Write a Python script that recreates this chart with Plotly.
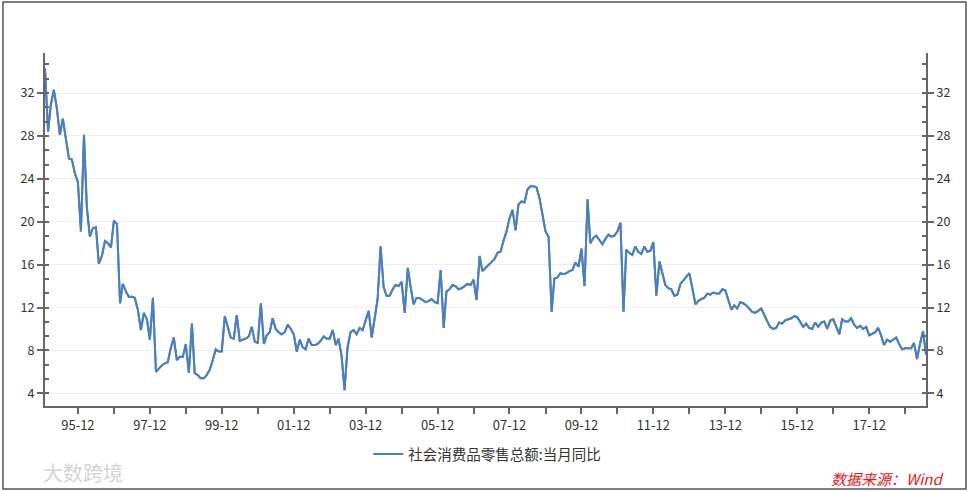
import pandas as pd
import plotly.graph_objects as go

# 社会消费品零售总额:当月同比 (%), monthly from 1995-01; None = no monthly value (Jan, combined with Feb)
start_month = "1995-01-01"
values = [
    34.3, 28.4, 30.9, 32.3, 30.6, 28.1, 29.6, 27.8, 25.9, 25.8, 24.5, 23.7,   # 1995
    19.1, 28.1, 21.3, 18.6, 19.4, 19.5, 16.1, 16.8, 18.2, 18.0, 17.6, 20.1,   # 1996
    19.8, 12.4, 14.2, 13.5, 13.0, 13.0, 12.9, 11.8, 9.9, 11.5, 10.9, 9.0,     # 1997
    12.9, 6.0, 6.3, 6.6, 6.8, 6.9, 8.2, 9.2, 7.1, 7.4, 7.4, 8.6,              # 1998
    5.9, 10.5, 5.9, 5.7, 5.4, 5.4, 5.7, 6.2, 7.1, 8.1, 7.9, 7.9,              # 1999
    11.2, 10.2, 9.2, 9.1, 11.3, 8.9, 9.0, 9.1, 9.3, 10.2, 8.8, 8.7,           # 2000
    12.4, 8.6, 9.4, 9.7, 11.0, 10.0, 9.7, 9.5, 9.7, 10.4, 10.0, 9.5,          # 2001
    7.9, 9.0, 8.3, 8.1, 9.1, 8.5, 8.5, 8.6, 8.9, 9.3, 9.1, 9.1,               # 2002
    9.9, 8.5, 9.1, 7.5, 4.3, 8.3, 9.7, 9.9, 9.5, 10.1, 9.9, 10.8,             # 2003
    11.7, 9.2, 10.8, 12.8, 17.7, 13.9, 13.1, 13.1, 13.7, 14.1, 14.0, 14.4,    # 2004
    11.5, 15.7, 14.0, 12.3, 12.9, 12.9, 12.7, 12.5, 12.6, 12.8, 12.5, 12.4,   # 2005
    15.5, 10.1, 13.5, 13.7, 14.1, 14.0, 13.7, 13.8, 14.0, 14.2, 14.1, 14.6,   # 2006
    12.7, 16.8, 15.4, 15.7, 16.0, 16.2, 16.5, 17.1, 17.2, 18.2, 19.1, 20.3,   # 2007
    21.1, 19.2, 21.6, 21.9, 21.8, 23.0, 23.3, 23.3, 23.2, 22.2, 20.8, 19.1,   # 2008
    18.6, 11.6, 14.7, 14.8, 15.2, 15.1, 15.2, 15.4, 15.5, 16.2, 15.8, 17.5,   # 2009
    14.0, 22.1, 18.0, 18.5, 18.7, 18.3, 17.9, 18.4, 18.8, 18.6, 18.7, 19.1,   # 2010
    19.9, 11.6, 17.4, 17.1, 16.9, 17.7, 17.2, 17.0, 17.7, 17.2, 17.3, 18.1,   # 2011
    13.1, 16.3, 15.2, 14.1, 13.8, 13.7, 13.1, 13.2, 14.2, 14.5, 14.9, 15.2,   # 2012
    None, 12.3, 12.6, 12.8, 12.9, 13.3, 13.2, 13.4, 13.3, 13.3, 13.7, 13.6,   # 2013
    None, 11.8, 12.2, 11.9, 12.5, 12.4, 12.2, 11.9, 11.6, 11.5, 11.7, 11.9,   # 2014
    None, 10.7, 10.2, 10.0, 10.1, 10.6, 10.5, 10.8, 10.9, 11.0, 11.2, 11.1,   # 2015
    None, 10.2, 10.5, 10.1, 10.0, 10.6, 10.2, 10.6, 10.7, 10.0, 10.8, 10.9,   # 2016
    None, 9.5, 10.9, 10.7, 10.7, 11.0, 10.4, 10.1, 10.3, 10.0, 10.2, 9.4,     # 2017
    None, 9.7, 10.1, 9.4, 8.5, 9.0, 8.8, 9.0, 9.2, 8.6, 8.1, 8.2,             # 2018
    None, 8.2, 8.7, 7.2, 8.6, 9.8, 7.6,                                       # 2019
]
series_name = "社会消费品零售总额:当月同比"

tick_dates = [f"{y}-12-01" for y in range(1995, 2019)]
tick_labels = ["95-12", "", "97-12", "", "99-12", "", "01-12", "", "03-12", "", "05-12", "",
               "07-12", "", "09-12", "", "11-12", "", "13-12", "", "15-12", "", "17-12", ""]

dates = pd.date_range(start_month, periods=len(values), freq="MS")

LINE = "#4d7fbc"
AX = "#666666"
TXT = "#333333"
FONT = "Noto Sans CJK SC"

fig = go.Figure()
fig.add_trace(go.Scatter(x=dates, y=values, mode="lines", name=series_name,
                         line=dict(color=LINE, width=2), connectgaps=True))
fig.add_trace(go.Scatter(x=dates, y=values, mode="lines", yaxis="y2", showlegend=False,
                         line=dict(color=LINE, width=2), connectgaps=True, hoverinfo="skip"))

yr = [2.82, 35.73]
ycommon = dict(range=yr, tick0=0, dtick=4, showline=True, linecolor=AX, linewidth=2,
               ticks="outside", ticklen=6, tickwidth=1.5, tickcolor=AX,
               tickfont=dict(size=12.5, color=TXT, family=FONT), zeroline=False,
               minor=dict(ticks="inside", ticklen=4, tickwidth=1.5, tickcolor=AX,
                          tick0=0, dtick=4 / 3, showgrid=False))

fig.update_layout(
    width=970, height=492,
    margin=dict(l=45, r=44, t=53, b=86),
    paper_bgcolor="white", plot_bgcolor="white",
    font=dict(family=FONT, color=TXT, size=12),
    xaxis=dict(type="date", range=[dates[0], dates[-1]], showline=True, linecolor=AX, linewidth=2,
               ticks="outside", ticklen=6, tickwidth=1.5, tickcolor=AX,
               tickmode="array", tickvals=tick_dates, ticktext=tick_labels,
               showgrid=False, zeroline=False, tickfont=dict(size=13, color=TXT, family=FONT)),
    yaxis=dict(**ycommon, showgrid=True, gridcolor="#eeeeee", gridwidth=1),
    yaxis2=dict(**ycommon, overlaying="y", side="right", showgrid=False),
    legend=dict(orientation="h", x=0.502, y=-0.136, xanchor="center", yanchor="middle",
                font=dict(size=14.5, color=TXT, family=FONT)),
    showlegend=True,
)

fig.add_annotation(xref="paper", yref="paper", x=1.0216, y=-0.204, xanchor="right", yanchor="middle",
                   text="<i>数据来源：Wind</i>", showarrow=False,
                   font=dict(size=15, color="#e8161a", family=FONT))
fig.add_annotation(xref="paper", yref="paper", x=-0.005, y=-0.187, xanchor="left", yanchor="middle",
                   text="大数跨境", showarrow=False,
                   font=dict(size=20, color="rgba(205,205,205,0.9)", family=FONT))

fig.add_shape(type="rect", xref="paper", yref="paper", x0=-0.0477, x1=1.0454, y0=-0.2351, y1=1.1445,
              line=dict(color="#555555", width=1.5), fillcolor="rgba(0,0,0,0)", layer="below")

fig.write_html("out.html", config={"displayModeBar": False},
               post_script="document.body.style.margin='0';")
